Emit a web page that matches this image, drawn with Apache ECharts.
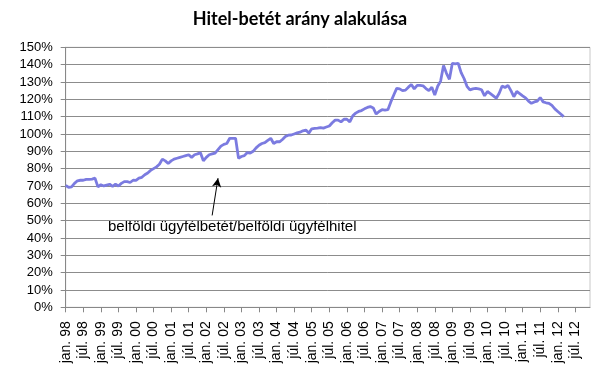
<!DOCTYPE html>
<html><head><meta charset="utf-8">
<script src="https://cdn.jsdelivr.net/npm/echarts@6/dist/echarts.min.js"></script>
<style>html,body{margin:0;padding:0;background:#fff}#c{width:600px;height:379px}</style>
</head><body><div id="c"></div>
<script>
var years = ['98','99','00','01','02','03','04','05','06','07','08','09','10','11','12'];
var monthNames = ['jan.','febr.','márc.','ápr.','máj.','jún.','júl.','aug.','szept.','okt.','nov.','dec.'];
var yTicks = [0,10,20,30,40,50,60,70,80,90,100,110,120,130,140,150];
// hitel-betét arány (%), monthly from jan. 98 to márc. 12
var ratio = [
 70.4,69.2,69.5,71.5,73.0,73.3,73.3,73.8,73.8,74.0,74.5,69.5,
 70.7,70.0,70.5,71.0,69.8,71.0,70.0,71.5,72.5,72.5,72.0,73.3,
 73.2,74.5,75.0,76.5,77.5,79.0,80.0,81.0,82.5,85.5,84.5,83.0,
 84.5,85.5,86.0,86.5,87.0,87.5,88.0,86.5,88.0,88.5,89.2,84.5,
 86.5,88.0,88.5,89.0,91.0,93.0,94.0,94.5,97.5,97.5,97.5,86.0,
 87.0,87.5,89.3,89.0,90.0,92.0,93.5,94.5,95.0,96.3,97.5,94.5,
 95.5,95.5,96.8,98.5,99.3,99.4,100.0,100.6,101.0,101.8,102.3,100.5,
 103.0,103.2,103.4,103.7,103.4,104.0,104.6,106.5,108.0,108.0,107.0,108.5,
 108.5,107.0,110.5,112.0,113.0,113.5,114.5,115.3,115.8,115.0,111.5,113.0,
 114.0,113.8,114.0,118.5,122.5,126.3,126.0,125.0,125.3,127.0,128.5,126.0,
 128.0,128.0,127.8,126.2,125.0,127.0,122.5,127.5,130.5,139.5,135.0,131.5,
 140.8,140.4,140.8,135.4,132.0,127.5,125.4,126.0,126.3,126.0,125.5,122.0,
 124.5,123.3,122.0,120.6,123.5,127.7,126.8,128.0,125.0,121.5,124.5,123.3,
 122.0,120.8,119.0,117.7,118.5,119.0,121.0,118.5,118.0,117.7,116.5,114.5,
 113.0,111.5,110.0
];
var categories = [];
years.forEach(function(y){ monthNames.forEach(function(m){ categories.push(m + ' ' + y); }); });

var chart = echarts.init(document.getElementById('c'), null, {renderer:'canvas'});
chart.setOption({
  animation:false,
  title:{text:'Hitel-betét arány alakulása', left:'center', top:5,
    textStyle:{fontFamily:'Lato', fontWeight:'bold', fontSize:18, color:'#000'}},
  grid:{left:65.7, right:10, top:47.3, bottom:71.7, show:true, borderColor:'#c8c8c8', borderWidth:1, backgroundColor:'transparent'},
  xAxis:{type:'category', data:categories, boundaryGap:false,
    axisLine:{show:true, lineStyle:{color:'#888', width:1}},
    axisTick:{show:true, interval:5, length:5, lineStyle:{color:'#888'}},
    axisLabel:{interval:5, rotate:90, margin:14, fontFamily:'Liberation Sans', fontSize:14, color:'#000'},
    splitLine:{show:false}},
  yAxis:{type:'value', min:0, max:150, interval:10,
    axisLine:{show:true, lineStyle:{color:'#888', width:1}},
    axisTick:{show:true, length:5, lineStyle:{color:'#888'}},
    axisLabel:{formatter:'{value}%', margin:13, fontFamily:'Liberation Sans', fontSize:13, color:'#000'},
    splitLine:{show:true, lineStyle:{color:'#8c8c8c', width:1}}},
  series:[{type:'line', data:ratio, showSymbol:false, symbol:'none',
    lineStyle:{color:'#7b7be0', width:2.8}, itemStyle:{color:'#7b7be0'},
    markLine:{silent:true, symbol:['none','arrow'], symbolSize:[7,9], label:{show:false},
      lineStyle:{color:'#000', width:1, type:'solid'},
      data:[[{coord:[categories[50], 53]}, {coord:[categories[52], 74.5]}]]}
  }],
  graphic:[{type:'text', left:108, top:219,
    style:{text:'belföldi ügyfélbetét/belföldi ügyfélhitel', font:'15px "Liberation Sans"', fill:'#000'}}]
});
</script></body></html>
